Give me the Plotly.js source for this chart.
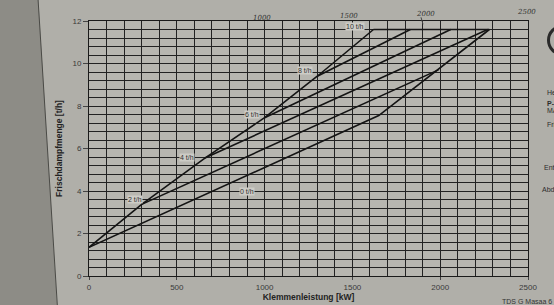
<!DOCTYPE html>
<html><head><meta charset="utf-8">
<script src="https://cdn.plot.ly/plotly-3.0.1.min.js"></script>
<style>html,body{margin:0;padding:0;background:#aeada7;overflow:hidden}#chart{width:554px;height:305px}</style>
</head><body><div id="chart"></div>
<script>
// ---- data (kW, t/h) ----
const envelopeX=[0,300,660,1000,1300,1620];
const envelopeY=[1.35,3.37,5.55,7.45,9.4,11.6];
const line0X=[0,1650,2280];
const line0Y=[1.35,7.55,11.6];
const line2X=[300,1990];
const line2Y=[3.37,9.7];
const line4X=[660,2270];
const line4Y=[5.55,11.6];
const line6X=[1000,2060];
const line6Y=[7.45,11.6];
const line8X=[1300,1830];
const line8Y=[9.4,11.6];
const topX=[1620,2280];
const topY=[11.6,11.6];
const labelText=['0 t/h','2 t/h','4 t/h','6 t/h','8 t/h','10 t/h'];
const labelX=[900,260,560,930,1230,1514];
const labelY=[4.0,3.6,5.6,7.6,9.65,11.75];
const xTickVals=[0,500,1000,1500,2000,2500];
const yTickVals=[0,2,4,6,8,10,12];
const handText=['1000','1500','2000','2500'];
const sideText=['He','<b>P-</b>','MA','Fri','Ent','Abd'];

// ---- geometry helpers (pixel -> paper) ----
const L=89,R=528,T=20.7,B=276;
const px=x=>(x-L)/(R-L);
const py=y=>(B-y)/(B-T);

const lineStyle={color:'#141414',width:1.6};
const series=[[envelopeX,envelopeY],[line0X,line0Y],[line2X,line2Y],[line4X,line4Y],[line6X,line6Y],[line8X,line8Y],[topX,topY]];
const traces=series.map(s=>({x:s[0],y:s[1],type:'scatter',mode:'lines',line:lineStyle,hoverinfo:'skip',showlegend:false}));

const ann=[];
labelText.forEach((t,i)=>ann.push({x:labelX[i],y:labelY[i],xref:'x',yref:'y',text:t,showarrow:false,
  font:{family:'Liberation Sans, Arial',size:7,color:'#333'},bgcolor:'#cdccc6',borderpad:0}));
const handPX=[262,349,437,538], handPY=[12,10,8,6];
handText.forEach((t,i)=>ann.push({x:px(handPX[i]),y:py(handPY[i]),xref:'paper',yref:'paper',text:'<i>'+t+'</i>',showarrow:false,
  font:{family:'DejaVu Serif',size:7,color:'#333'}}));
const sideX=[545,545,545,545,542,540], sideY=[87,98,110,124,167,189];
sideText.forEach((t,i)=>ann.push({x:px(sideX[i]),y:py(sideY[i]),xref:'paper',yref:'paper',xanchor:'left',text:t,showarrow:false,
  font:{family:'Liberation Sans, Arial',size:7,color:'#2c2c2c'}}));
ann.push({x:px(500),y:py(296.5),xref:'paper',yref:'paper',xanchor:'left',yanchor:'top',text:'TDS G Masaa 6',showarrow:false,
  font:{family:'Liberation Sans, Arial',size:7,color:'#333'}});

const layout={
  width:554,height:305,
  margin:{l:L,r:554-R,t:T,b:305-B,pad:0},
  paper_bgcolor:'#b0afa9',plot_bgcolor:'#b7b6b0',
  font:{family:'Liberation Sans, Arial',color:'#333'},
  xaxis:{range:[0,2500],tickvals:xTickVals,ticks:'outside',ticklen:3,tickcolor:'#444',
    showgrid:true,gridcolor:'#222',gridwidth:1,zeroline:false,showline:true,linecolor:'#1a1a1a',linewidth:1,mirror:true,
    minor:{dtick:100,showgrid:true,gridcolor:'#222',gridwidth:1,ticks:''},
    tickfont:{size:8,color:'#3a3a3a'},
    title:{text:'<b>Klemmenleistung [kW]</b>',font:{size:8.5,color:'#222'},standoff:2},automargin:false,fixedrange:true},
  yaxis:{range:[0,12],tickvals:yTickVals,ticks:'outside',ticklen:5,tickcolor:'#444',
    showgrid:true,gridcolor:'#222',gridwidth:1,zeroline:false,showline:true,linecolor:'#1a1a1a',linewidth:1,mirror:true,
    minor:{dtick:0.4,showgrid:true,gridcolor:'#222',gridwidth:1,ticks:''},
    tickfont:{size:8,color:'#3a3a3a'},
    title:{text:'<b>Frischdampfmenge [t/h]</b>',font:{size:8.5,color:'#222'},standoff:8},automargin:false,fixedrange:true},
  annotations:ann,
  shapes:[
    {type:'path',xref:'paper',yref:'paper',layer:'below',path:`M ${px(-5)},${py(-5)} L ${px(38)},${py(-5)} L ${px(57.5)},${py(310)} L ${px(-5)},${py(310)} Z`,
      fillcolor:'#8d8c86',line:{width:0}},
    {type:'line',xref:'paper',yref:'paper',x0:px(38),y0:py(-2),x1:px(57.5),y1:py(308),line:{color:'#4a4a46',width:1}},
    {type:'circle',xref:'paper',yref:'paper',x0:px(548.5),x1:px(576),y0:py(54),y1:py(26),line:{color:'#2a2a2a',width:3}},
    {type:'line',xref:'paper',yref:'paper',x0:px(421),y0:py(17),x1:px(423),y1:py(24),line:{color:'#444',width:1}}
  ]
};
Plotly.newPlot('chart',traces,layout,{staticPlot:true,displayModeBar:false});
</script></body></html>
